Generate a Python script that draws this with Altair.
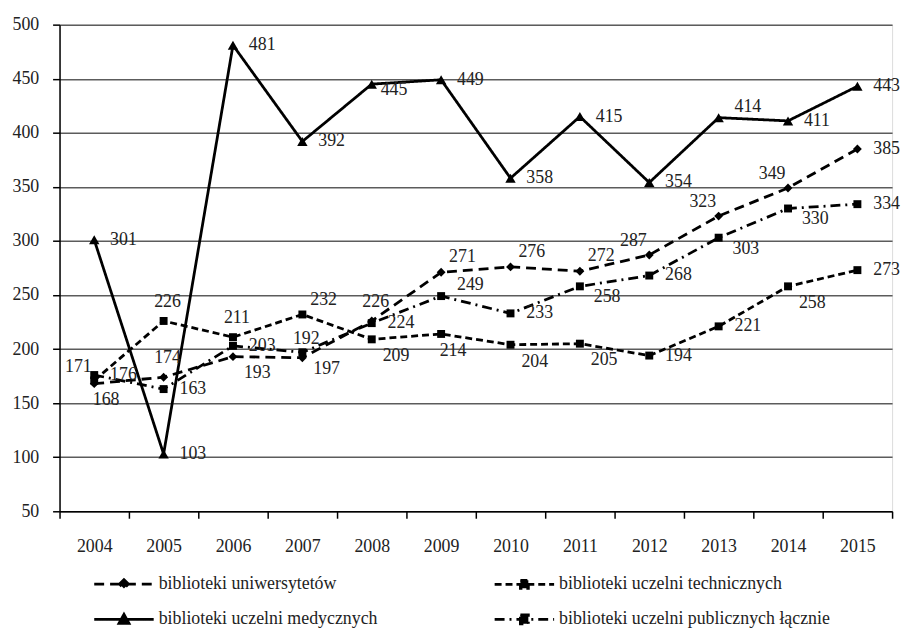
import altair as alt
import pandas as pd

# ---- data ----
years = [2004, 2005, 2006, 2007, 2008, 2009, 2010, 2011, 2012, 2013, 2014, 2015]
series_names = [
    "biblioteki uniwersytetów",
    "biblioteki uczelni technicznych",
    "biblioteki uczelni medycznych",
    "biblioteki uczelni publicznych łącznie",
]
uniwersytety = [168, 174, 193, 192, 226, 271, 276, 272, 287, 323, 349, 385]
techniczne = [171, 226, 211, 232, 209, 214, 204, 205, 194, 221, 258, 273]
medyczne = [301, 103, 481, 392, 445, 449, 358, 415, 354, 414, 411, 443]
publiczne = [176, 163, 203, 197, 224, 249, 233, 258, 268, 303, 330, 334]
y_ticks = [50, 100, 150, 200, 250, 300, 350, 400, 450, 500]

# ---- label placement (style, like Excel's label position) ----
placement = {
    series_names[0]: ["B", "A", "BR", "A", "A", "AR", "AR", "AR", "AL", "AL", "AL", "R"],
    series_names[1]: ["AL", "A", "A", "AR", "BR", "B", "BR", "BR", "R", "R", "BR", "R"],
    series_names[2]: ["R", "R", "R", "R", "RL", "R", "R", "R", "R", "RA", "R", "R"],
    series_names[3]: ["R", "R", "R", "BR", "R", "RA", "R", "RB", "R", "RB", "RB", "R"],
}
label_classes = {
    "R": ("left", 16, 0),
    "RL": ("left", 9, 6),
    "RA": ("left", 16, -11),
    "RB": ("left", 14, 11),
    "A": ("center", 4, -19),
    "AR": ("left", 8, -15),
    "AL": ("center", -16, -14),
    "B": ("center", 12, 17),
    "BR": ("left", 11, 17),
}

values = [uniwersytety, techniczne, medyczne, publiczne]
rows = []
for name, vals in zip(series_names, values):
    for i, (yr, v) in enumerate(zip(years, vals)):
        rows.append({"year": yr, "series": name, "value": v, "pos": placement[name][i]})
df = pd.DataFrame(rows)

FONT = "Liberation Serif, Times New Roman, serif"
FS = 18
TXT = "#222222"
LW = 2.8

styles = {
    series_names[0]: dict(dash=[10, 6], shape="diamond", size=80,
                          path="M-6,0L6,0M0,-0.9L0.9,0L0,0.9L-0.9,0Z"),
    series_names[1]: dict(dash=[7, 4], shape="square", size=64,
                          path="M-6,0L6,0M-0.8,-0.8L0.8,-0.8L0.8,0.8L-0.8,0.8Z"),
    series_names[2]: dict(dash=[1, 0], shape="triangle-up", size=110,
                          path="M-6,0L6,0M0,-1L1,0.8L-1,0.8Z"),
    series_names[3]: dict(dash=[10, 5, 2, 5], shape="square", size=64,
                          path="M-6,0L6,0M-0.8,-0.9L0.8,-0.9L0.8,0.9L-0.8,0.9Z"),
}
# legend is filled column by column: left column uni + med, right column tech + publ
legend_order = [series_names[0], series_names[2], series_names[1], series_names[3]]

x_enc = alt.X(
    "year:O",
    scale=alt.Scale(type="band", paddingInner=0, paddingOuter=0),
    axis=alt.Axis(
        title=None, labelAngle=0, tickBand="extent", tickSize=7, tickColor="black",
        tickWidth=1.5, domainColor="black", domainWidth=1.5, labelPadding=20,
        labelFont=FONT, labelFontSize=FS, labelColor=TXT, grid=False,
    ),
)
y_enc = alt.Y(
    "value:Q",
    scale=alt.Scale(domain=[50, 500], nice=False, zero=False),
    axis=alt.Axis(
        title=None, values=y_ticks, grid=True, gridColor="#5c5c5c", gridWidth=1.5,
        domainColor="black", domainWidth=1.5, tickColor="black", tickWidth=1.5,
        tickSize=7, labelPadding=14, labelFont=FONT, labelFontSize=FS, labelColor=TXT,
    ),
)

base = alt.Chart(df).encode(x=x_enc, y=y_enc)

layers = []
for name in series_names:
    st = styles[name]
    layers.append(
        base.transform_filter(alt.datum.series == name).mark_line(
            color="black", strokeWidth=LW, strokeDash=st["dash"]
        )
    )
for name in series_names:
    st = styles[name]
    layers.append(
        base.transform_filter(alt.datum.series == name).mark_point(
            filled=True, color="black", shape=st["shape"], size=st["size"], opacity=1
        )
    )
for cls, (align, dx, dy) in label_classes.items():
    layers.append(
        base.transform_filter(alt.datum.pos == cls).mark_text(
            align=align, baseline="middle", dx=dx, dy=dy, font=FONT, fontSize=FS, color=TXT
        ).encode(text="value:Q")
    )

leg = dict(
    title=None, orient="none", legendX=56, legendY=555, columns=2, columnPadding=112,
    rowPadding=14, labelFont=FONT, labelFontSize=FS, labelColor=TXT, labelOffset=26,
    symbolSize=100, symbolStrokeWidth=LW, symbolOpacity=1, labelLimit=400,
)
legend_layer = base.mark_point(
    filled=False, stroke="black", fill="black", strokeWidth=LW, size=100, opacity=0
).encode(
    shape=alt.Shape("series:N",
                    scale=alt.Scale(domain=legend_order,
                                    range=[styles[n]["path"] for n in legend_order]),
                    legend=alt.Legend(**leg)),
    strokeDash=alt.StrokeDash("series:N",
                              scale=alt.Scale(domain=legend_order,
                                              range=[styles[n]["dash"] for n in legend_order]),
                              legend=alt.Legend(**leg)),
)
layers.append(legend_layer)

chart = alt.layer(*layers).properties(
    width=840, height=491,
    padding={"left": 52, "top": 14, "right": 10, "bottom": 120},
    autosize=alt.AutoSizeParams(type="none"),
).configure_view(strokeWidth=0).configure(background="white")

chart.save("out.html", embed_options={"renderer": "svg", "actions": False})
